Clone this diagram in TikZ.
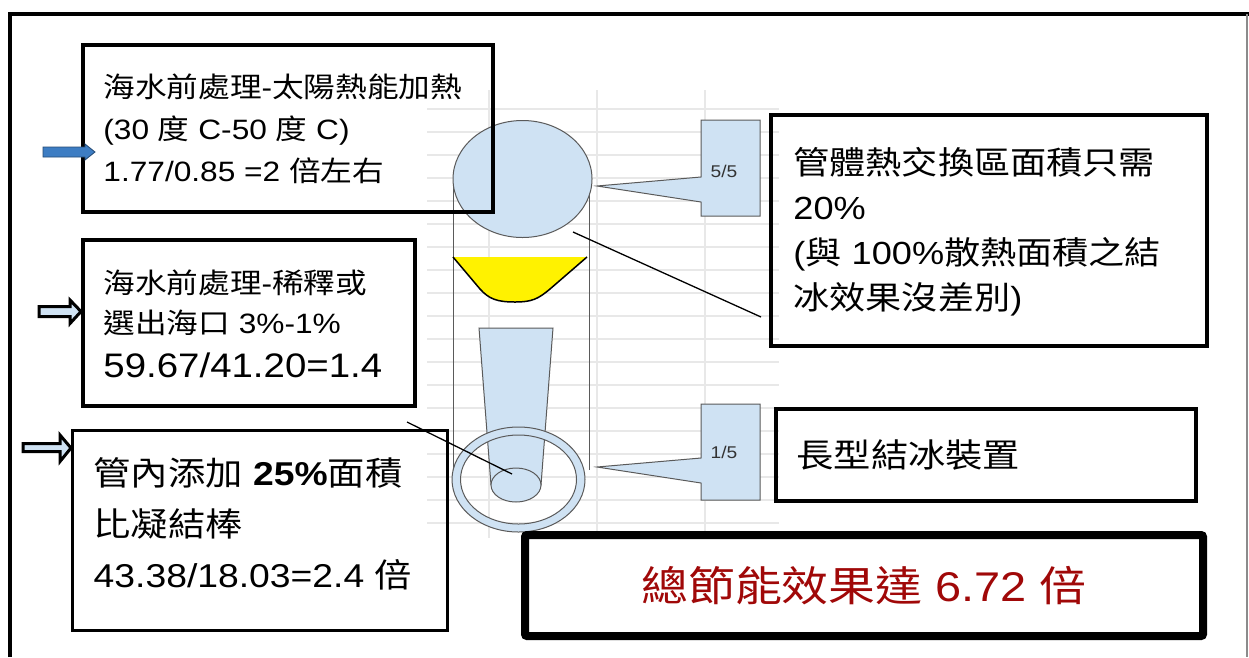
\documentclass[tikz,border=0pt]{standalone}
\usepackage{fontspec}
\setmainfont{Liberation Sans}[FakeStretch=1.13]
\newfontfamily\zhfont{Noto Sans CJK TC}[FakeStretch=1.13]
\newcommand{\zh}[1]{{\zhfont #1}}

\definecolor{gridgray}{HTML}{E8E8E8}
\definecolor{paleblue}{HTML}{CFE2F3}
\definecolor{arrowblue}{HTML}{3D7DC3}
\definecolor{edgegray}{HTML}{5A5A5A}
\definecolor{darkred}{RGB}{160,8,8}

\begin{document}
\begin{tikzpicture}[x=1pt,y=-1pt,
  box/.style={draw=black, line width=3.5, rectangle, inner sep=0},
  txt/.style={inner sep=0, align=left, anchor=west},
  gridline/.style={draw=gridgray, line width=1.6},
  part/.style={fill=paleblue, draw=edgegray, line width=1},
  tag/.style={fill=paleblue, draw=edgegray, line width=1},
  tagtext/.style={inner sep=0, text=black!80, font=\fontsize{17}{17}\selectfont},
  leader/.style={draw=black, line width=1.3},
  hollowarrow/.style={fill=paleblue, draw=black, line width=3, line join=miter},
]
\useasboundingbox (0,0) rectangle (1249,657);
\fill[white] (0,0) rectangle (1249,657);

% outer frame
\draw[line width=4] (10,657) -- (10,14) -- (1249,14);
\draw[edgegray!70, line width=1.2] (1247,14) -- (1247,657);

% background grid
\foreach \k in {0,...,18}
  \draw[gridline] (427,109+23*\k) -- (779,109+23*\k);
\foreach \gx in {489,597,705}
  \draw[gridline] (\gx,90) -- (\gx,538);

% cylinder walls
\draw[edgegray, line width=1] (453,179) -- (453,480);
\draw[edgegray, line width=1] (589,185) -- (589,470);

% top heat-exchange section
\coordinate (topc) at (522.5,179);
\draw[part] (topc) ellipse [x radius=69.5, y radius=58.5];

% yellow bowl
\fill[yellow] (453,257) -- (587,257) -- (550,289)
  .. controls (538,299) and (532,302) .. (515,302)
  .. controls (497,302) and (489,299) .. (480,289) -- cycle;
\draw[black, line width=1.5] (453,257) -- (480,289)
  .. controls (489,299) and (497,302) .. (515,302)
  .. controls (532,302) and (538,299) .. (550,289) -- (587,257);

% tapered rod
\draw[part] (479,328) -- (553,328) -- (541,485) -- (491,485) -- cycle;

% bottom ring
\coordinate (ringc) at (518.5,479.5);
\path[part, even odd rule] (ringc) ellipse [x radius=66.5, y radius=52.5]
  (ringc) ellipse [x radius=58, y radius=44.5];

% rod end
\coordinate (rodend) at (516,485);
\draw[part] (rodend) ellipse [x radius=25, y radius=17];

% callout tags
\draw[tag] (701,120) -- (760,120) -- (760,216) -- (701,216) -- (701,202)
  -- (597,186) -- (701,177) -- cycle;
\node[tagtext] (tagA) at (724,171) {5/5};
\draw[tag] (701,404) -- (760,404) -- (760,500) -- (701,500) -- (701,483)
  -- (597,467) -- (701,458) -- cycle;
\node[tagtext] (tagB) at (724,452) {1/5};

% text boxes
\node[box, minimum width=410, minimum height=167] (b1) at (288,128.5) {};
\node[txt, font=\fontsize{28}{42}\selectfont] (t1) at ([xshift=22]b1.west)
  {\zh{海水前處理}-\zh{太陽熱能加熱}\\
   (30 \zh{度} C-50 \zh{度} C)\\
   1.77/0.85 =2 \zh{倍左右}};

\node[box, minimum width=332, minimum height=166] (b2) at (249,323) {};
\node[txt, font=\fontsize{28}{40}\selectfont] (t2) at ([xshift=22,yshift=-1]b2.west)
  {\zh{海水前處理}-\zh{稀釋或}\\
   \zh{選出海口} 3\%-1\%\\[4pt]
   {\fontsize{34}{40}\selectfont 59.67/41.20=1.4}};

\node[box, line width=3, minimum width=375, minimum height=200] (b3) at (259.5,530) {};
\node[txt, font=\fontsize{33}{51}\selectfont] (t3) at ([xshift=23,yshift=6]b3.west)
  {\zh{管內添加} {\bfseries 25\%}\zh{面積}\\
   \zh{比凝結棒}\\
   43.38/18.03=2.4 \zh{倍}};

\node[box, minimum width=436, minimum height=231] (n1) at (989,230.5) {};
\node[txt, font=\fontsize{32}{45}\selectfont] (tn1) at ([xshift=24,yshift=-1]n1.west)
  {\zh{管體熱交換區面積只需}\\
   20\%\\
   (\zh{與} 100\%\zh{散熱面積之結}\\
   \zh{冰效果沒差別})};

\node[box, minimum width=420, minimum height=92] (n2) at (986,455) {};
\node[txt, font=\fontsize{33}{40}\selectfont] (tn2) at ([xshift=22]n2.west)
  {\zh{長型結冰裝置}};

\node[box, line width=8, rounded corners=2, minimum width=678, minimum height=101] (tot) at (864,585.5) {};
\node[inner sep=0, text=darkred, font=\fontsize{41.5}{45}\selectfont] (ttot) at (tot.center)
  {\zh{總節能效果達} 6.72 \zh{倍}};

% leader lines
\coordinate (topedge) at (573,232);
\coordinate (noteend) at (761,317);
\draw[leader] (topedge) -- (noteend);
\coordinate (boxcorner) at (407,422);
\coordinate (rodtip) at (512,474);
\draw[leader] (boxcorner) -- (rodtip);

% input arrows
\draw[fill=arrowblue, draw=arrowblue!60!black, line width=0.8]
  (43,147) -- (85,147) -- (85,144) -- (95,152) -- (85,160) -- (85,157) -- (43,157) -- cycle;
\draw[hollowarrow]
  (39,306.5) -- (70,306.5) -- (70,300) -- (81,311.5) -- (70,323.5) -- (70,316.5) -- (39,316.5) -- cycle;
\draw[hollowarrow]
  (23,443.5) -- (60,443.5) -- (60,435) -- (71,448) -- (60,461.5) -- (60,451.5) -- (23,451.5) -- cycle;
\end{tikzpicture}
\end{document}
